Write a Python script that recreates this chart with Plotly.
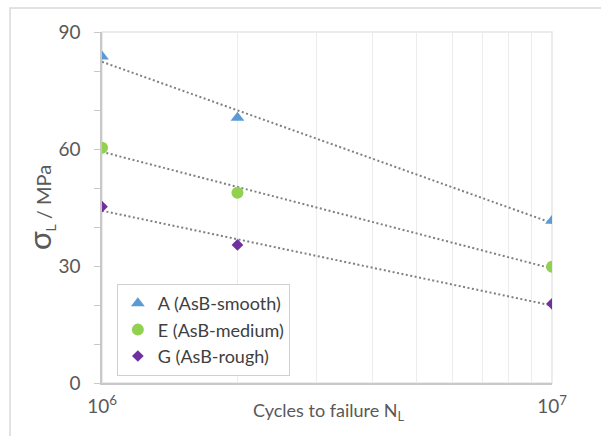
import numpy as np
import plotly.graph_objects as go

# Fatigue data: stress amplitude vs cycles to failure
cycles = [1e6, 2e6, 1e7]
sigma_A = [83.7, 68.0, 41.6]   # A (AsB-smooth)
sigma_E = [60.3, 48.8, 29.8]   # E (AsB-medium)
sigma_G = [45.2, 35.4, 20.3]   # G (AsB-rough)

series = [
    ("A (AsB-smooth)", sigma_A, "#5B9BD5", "triangle-up", 12),
    ("E (AsB-medium)", sigma_E, "#92D050", "circle", 12),
    ("G (AsB-rough)", sigma_G, "#7030A0", "diamond", 9),
]

FONT = "Lato"
GREY = "#595959"

fig = go.Figure()

# Logarithmic trend lines (least squares in log10 N)
logx = np.log10(cycles)
x_line = np.array([1e6, 1e7])
for name, ys, color, sym, size in series:
    slope, icpt = np.polyfit(logx, ys, 1)
    fig.add_trace(go.Scatter(
        x=x_line, y=slope * np.log10(x_line) + icpt,
        mode="lines", showlegend=False, hoverinfo="skip",
        line=dict(color="#808080", width=2, dash="2px,2.5px"),
    ))

for name, ys, color, sym, size in series:
    fig.add_trace(go.Scatter(
        x=cycles, y=ys, mode="markers", name=name,
        marker=dict(symbol=sym, size=size, color=color, line=dict(width=0)),
    ))

# Outer chart frame and plot-area border
fig.add_shape(type="rect", xref="paper", yref="paper",
              x0=-0.2044, x1=1.13, y0=-0.18, y1=1.0684,
              line=dict(color="#d9d9d9", width=1.5), layer="below")
fig.add_shape(type="rect", xref="paper", yref="paper",
              x0=0, x1=1, y0=0, y1=1,
              line=dict(color="#e6e6e6", width=1.5), layer="below")

# x-axis title sits level with the tick labels
fig.add_annotation(
    text="Cycles to failure N<sub>L</sub>", xref="paper", yref="paper",
    x=0.504, y=-0.08, xanchor="center", yanchor="middle", showarrow=False,
    font=dict(size=18, color=GREY, family=FONT),
)

fig.update_layout(
    width=601, height=436,
    margin=dict(l=102, r=49, t=32, b=53),
    paper_bgcolor="white", plot_bgcolor="white",
    font=dict(family=FONT, color=GREY),
    legend=dict(
        x=0.033, y=0.282, xanchor="left", yanchor="top",
        bordercolor="#d0d0d0", borderwidth=1, bgcolor="white",
        font=dict(size=18, color="#404040", family=FONT),
        tracegroupgap=0, itemsizing="trace", itemwidth=30,
    ),
    xaxis=dict(
        type="log", range=[6, 7], automargin=False,
        tickvals=[1e6, 1e7],
        ticktext=["10<sup>6</sup>", "10<sup>7</sup>"],
        tickfont=dict(size=19, color=GREY),
        ticks="", ticklabelstandoff=5,
        showline=True, linecolor="#c8c8c8", linewidth=1.5,
        showgrid=False, zeroline=False,
        minor=dict(tickvals=[k * 1e6 for k in range(2, 10)],
                   showgrid=True, gridcolor="#ececec", gridwidth=1, ticks=""),
    ),
    yaxis=dict(
        range=[0, 90], tick0=0, dtick=30, automargin=False,
        tickfont=dict(size=19, color=GREY),
        ticks="outside", ticklen=6, tickcolor="#c8c8c8",
        ticklabelstandoff=10,
        showline=True, linecolor="#c8c8c8", linewidth=1.5,
        showgrid=False, zeroline=False,
        minor=dict(dtick=10, ticks="outside", ticklen=6, tickcolor="#c8c8c8",
                   showgrid=False),
        title=dict(text="<span style='font-size:31px'>σ</span><sub>L</sub> / MPa",
                   font=dict(size=20, color=GREY), standoff=1),
    ),
)

fig.write_html("out.html")
